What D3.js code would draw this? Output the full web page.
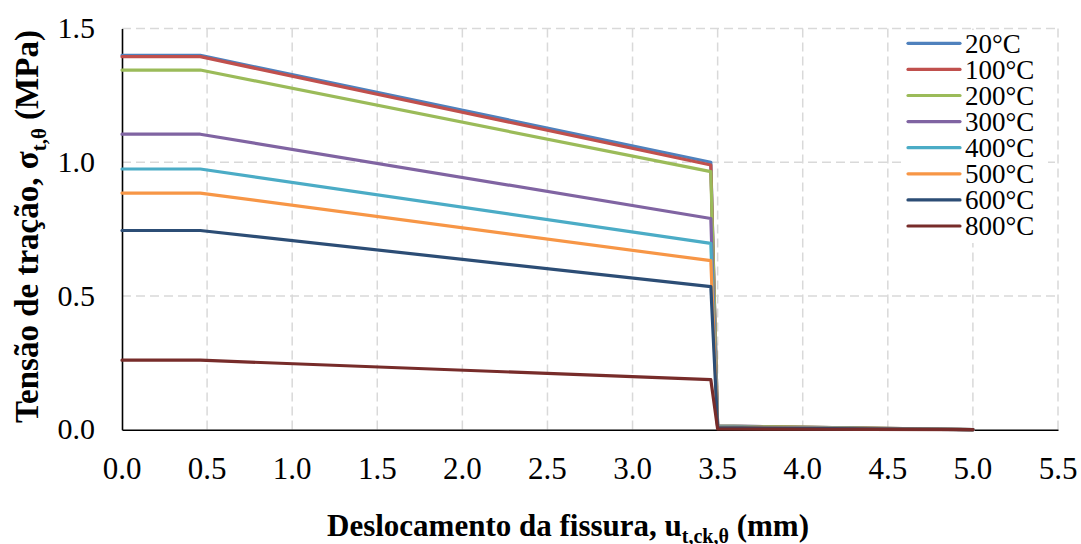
<!DOCTYPE html>
<html>
<head>
<meta charset="utf-8">
<script src="https://cdn.jsdelivr.net/npm/d3@7/dist/d3.min.js"></script>
<style>
  html, body { margin: 0; padding: 0; background: #fff; }
</style>
</head>
<body>
<svg id="chart" width="1081" height="544"></svg>
<script>
// Crack opening (mm) at which each softening curve is defined
const crackOpening = [0, 0.46, 3.46, 3.5, 5.0];

// Tensile stress (MPa) for each temperature, one value per crack opening
const stress20  = [1.400, 1.400, 1.000, 0.0140, 0];
const stress100 = [1.395, 1.395, 0.990, 0.0139, 0];
const stress200 = [1.345, 1.345, 0.965, 0.0135, 0];
const stress300 = [1.105, 1.105, 0.790, 0.0110, 0];
const stress400 = [0.975, 0.975, 0.697, 0.0098, 0];
const stress500 = [0.885, 0.885, 0.632, 0.0089, 0];
const stress600 = [0.745, 0.745, 0.535, 0.0075, 0];
const stress800 = [0.260, 0.260, 0.187, 0.0026, 0];

const seriesNames = ["20°C", "100°C", "200°C", "300°C", "400°C", "500°C", "600°C", "800°C"];
const seriesValues = [stress20, stress100, stress200, stress300, stress400, stress500, stress600, stress800];
const seriesColors = ["#4F81BD", "#C0504D", "#9BBB59", "#8064A2", "#4BACC6", "#F79646", "#2C4D75", "#772C2A"];

const xTicks = [0, 0.5, 1.0, 1.5, 2.0, 2.5, 3.0, 3.5, 4.0, 4.5, 5.0, 5.5];
const yTicks = [0, 0.5, 1.0, 1.5];

const face = `"Liberation Serif"`;

const svg = d3.select("#chart");
const plot = { left: 122, right: 1058, top: 28.6, bottom: 429.7 };

const x = d3.scaleLinear().domain([0, 5.5]).range([plot.left, plot.right]);
const y = d3.scaleLinear().domain([0, 1.5]).range([plot.bottom, plot.top]);

// Dashed grid
const grid = svg.append("g").attr("stroke", "#d9d9d9").attr("stroke-width", 1.5)
  .attr("stroke-dasharray", "9,5").attr("fill", "none");
grid.selectAll("line.v").data(xTicks.filter(d => d > 0)).join("line")
  .attr("class", "v")
  .attr("x1", d => x(d)).attr("x2", d => x(d))
  .attr("y1", plot.top).attr("y2", plot.bottom);
grid.selectAll("line.h").data(yTicks.filter(d => d > 0)).join("line")
  .attr("class", "h")
  .attr("x1", plot.left).attr("x2", plot.right)
  .attr("y1", d => y(d)).attr("y2", d => y(d));

// Axis lines from d3-axis; tick labels are drawn below in the serif face
const xAxis = d3.axisBottom(x).tickValues(xTicks).tickSize(0).tickFormat(() => "");
const yAxis = d3.axisLeft(y).tickValues(yTicks).tickSize(0).tickFormat(() => "");

const gx = svg.append("g").attr("transform", `translate(0,${plot.bottom})`).call(xAxis);
gx.select(".domain").attr("stroke", "#000").attr("stroke-width", 1.6);
gx.selectAll(".tick text").remove();

const gy = svg.append("g").attr("transform", `translate(${plot.left},0)`).call(yAxis);
gy.select(".domain").attr("stroke", "#000").attr("stroke-width", 1.6);
gy.selectAll(".tick text").remove();

const fmt = d3.format(".1f");
svg.append("g").selectAll("text").data(xTicks).join("text")
  .attr("x", d => x(d)).attr("y", plot.bottom + 49.6)
  .attr("text-anchor", "middle").attr("font-size", 31)
  .attr("font-family", "Liberation Serif")
  .style("font-family", face)
  .text(d => fmt(d));

svg.append("g").selectAll("text").data(yTicks).join("text")
  .attr("x", plot.left - 27).attr("y", d => y(d) + 9.5)
  .attr("text-anchor", "end").attr("font-size", 30)
  .attr("font-family", "Liberation Serif")
  .style("font-family", face)
  .text(d => fmt(d));

// Curves
const line = d3.line()
  .x((d, i) => x(crackOpening[i]))
  .y(d => y(d));

svg.append("g").selectAll("path").data(seriesValues).join("path")
  .attr("d", d => line(d))
  .attr("fill", "none")
  .attr("stroke", (d, i) => seriesColors[i])
  .attr("stroke-width", 3.2)
  .attr("stroke-linejoin", "round")
  .attr("stroke-linecap", "round");

// Legend
const legend = svg.append("g");
legend.append("rect").attr("x", 902).attr("y", 30).attr("width", 146).attr("height", 213).attr("fill", "#fff");
const rowY = i => 43.3 + i * 26.1;
legend.selectAll("line.key").data(seriesNames).join("line")
  .attr("class", "key")
  .attr("x1", 908).attr("x2", 960)
  .attr("y1", (d, i) => rowY(i)).attr("y2", (d, i) => rowY(i))
  .attr("stroke", (d, i) => seriesColors[i])
  .attr("stroke-width", 3.2).attr("stroke-linecap", "round");
legend.selectAll("text").data(seriesNames).join("text")
  .attr("x", 965).attr("y", (d, i) => rowY(i) + 9.4)
  .attr("font-size", 27)
  .attr("font-family", "Liberation Serif")
  .style("font-family", face)
  .text(d => d);

// Axis titles
const xt = svg.append("text").attr("x", 568).attr("y", 536)
  .attr("text-anchor", "middle").attr("font-size", 31).attr("font-weight", "bold")
  .attr("font-family", "Liberation Serif")
  .style("font-family", face);
xt.append("tspan").text("Deslocamento da fissura, u");
xt.append("tspan").attr("font-size", 20).attr("dy", 7).text("t,ck,θ");
xt.append("tspan").attr("dy", -7).text(" (mm)");

const yt = svg.append("text").attr("transform", "translate(37.5,226.5) rotate(-90)")
  .attr("text-anchor", "middle").attr("font-size", 33).attr("font-weight", "bold")
  .attr("font-family", "Liberation Serif")
  .style("font-family", face);
yt.append("tspan").text("Tensão de tração, σ");
yt.append("tspan").attr("font-size", 21).attr("dy", 8).text("t,θ");
yt.append("tspan").attr("dy", -8).text(" (MPa)");
</script>
</body>
</html>
